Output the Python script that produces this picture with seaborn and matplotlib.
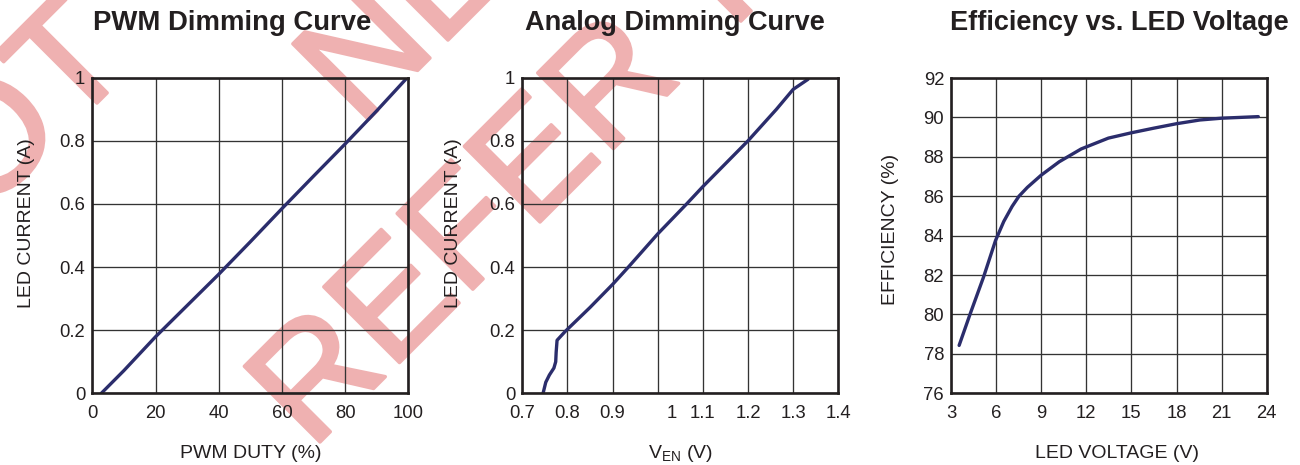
import matplotlib
matplotlib.use("Agg")
import matplotlib.pyplot as plt
import matplotlib.patheffects as pe
import seaborn as sns
from matplotlib.transforms import ScaledTranslation

# ---------------- data ----------------
pwm_duty = [2.85, 10, 20, 30, 40, 50, 60, 70, 80, 90, 99.2]
pwm_current = [0.0, 0.072, 0.179, 0.278, 0.377, 0.48, 0.585, 0.688, 0.79, 0.895, 0.995]

ven = [0.746, 0.752, 0.760, 0.770, 0.774, 0.775, 0.777, 0.795, 0.85, 0.90,
       0.935, 1.0, 1.064, 1.1, 1.2, 1.263, 1.30, 1.333]
analog_current = [0.0, 0.035, 0.058, 0.08, 0.10, 0.13, 0.168, 0.196, 0.272, 0.345,
                  0.40, 0.505, 0.60, 0.655, 0.80, 0.90, 0.963, 0.995]

led_voltage = [3.54, 4.28, 5.17, 5.96, 6.51, 7.07, 7.52, 8.08, 9.0, 10.2,
               11.66, 13.47, 15.0, 16.46, 18.0, 19.56, 21.0, 23.44]
efficiency = [78.43, 80.04, 81.91, 83.75, 84.72, 85.49, 86.0, 86.45, 87.07, 87.75,
              88.4, 88.95, 89.22, 89.45, 89.68, 89.87, 89.96, 90.04]

titles = ["PWM Dimming Curve", "Analog Dimming Curve", "Efficiency vs. LED Voltage"]
xlabels = ["PWM DUTY (%)", r"V$_{\mathrm{EN}}$ (V)", "LED VOLTAGE (V)"]
ylabels = ["LED CURRENT (A)", "LED CURRENT (A)", "EFFICIENCY (%)"]

pwm_xticks = [0, 20, 40, 60, 80, 100]
pwm_xticklabels = ["0", "20", "40", "60", "80", "100"]
current_yticks = [0, 0.2, 0.4, 0.6, 0.8, 1.0]
current_yticklabels = ["0", "0.2", "0.4", "0.6", "0.8", "1"]
ven_xticks = [0.7, 0.8, 0.9, 1.0, 1.1, 1.2, 1.3, 1.4]
ven_xticklabels = ["0.7", "0.8", "0.9", "1", "1.1", "1.2", "1.3", "1.4"]
volt_xticks = [3, 6, 9, 12, 15, 18, 21, 24]
volt_xticklabels = ["3", "6", "9", "12", "15", "18", "21", "24"]
eff_yticks = [76, 78, 80, 82, 84, 86, 88, 90, 92]
eff_yticklabels = ["76", "78", "80", "82", "84", "86", "88", "90", "92"]

watermark_lines = ["NOT", "NEW", "REFER TO"]

# ---------------- style ----------------
sns.set_style("white")
plt.rcParams["font.family"] = ["Liberation Sans", "DejaVu Sans"]
plt.rcParams["mathtext.fontset"] = "custom"
plt.rcParams["mathtext.rm"] = "Liberation Sans"
plt.rcParams["mathtext.it"] = "Liberation Sans:italic"
plt.rcParams["mathtext.bf"] = "Liberation Sans:bold"

W, H = 1300, 465
navy = "#2B2D6C"
ink = "#231F20"
pink = "#EFB1B1"

fig = plt.figure(figsize=(13, 4.65), dpi=100)
fig.patch.set_facecolor("white")

# watermark (beneath everything)
wm_anchors = [(-96.5, 296.5), (359.5, 128.5), (311, 451)]
for txt, (xi, yi) in zip(watermark_lines, wm_anchors):
    fig.text(xi / W, 1 - yi / H, txt, rotation=45, rotation_mode="anchor",
             ha="left", va="baseline", fontsize=112, color=pink,
             family="Liberation Sans", zorder=-10,
             path_effects=[pe.withStroke(linewidth=2.5, foreground=pink)])

# axes positions in pixels: left, top, right, bottom
boxes = [(92.3, 77.7, 408.3, 393.3), (522.3, 77.7, 838.3, 393.3), (951.0, 78.0, 1266.7, 393.3)]
axes = []
for (l, t, r, b) in boxes:
    ax = fig.add_axes([l / W, 1 - b / H, (r - l) / W, (b - t) / H])
    ax.set_facecolor("none")
    axes.append(ax)

series = [(pwm_duty, pwm_current), (ven, analog_current), (led_voltage, efficiency)]
for ax, (xs, ys) in zip(axes, series):
    sns.lineplot(x=xs, y=ys, ax=ax, color=navy, linewidth=2.4, estimator=None, sort=False)

# limits & ticks
axes[0].set_xlim(0, 100); axes[0].set_ylim(0, 1)
axes[0].set_xticks(pwm_xticks, pwm_xticklabels)
axes[0].set_yticks(current_yticks, current_yticklabels)

axes[1].set_xlim(0.7, 1.4); axes[1].set_ylim(0, 1)
axes[1].set_xticks(ven_xticks, ven_xticklabels)
axes[1].set_yticks(current_yticks, current_yticklabels)

axes[2].set_xlim(3, 24); axes[2].set_ylim(76, 92)
axes[2].set_xticks(volt_xticks, volt_xticklabels)
axes[2].set_yticks(eff_yticks, eff_yticklabels)

ylab_pos = [(-0.207, 0.54), (-0.218, 0.54), (-0.193, 0.52)]
xlab_pos = [(0.5, -0.206), (0.5, -0.206), (0.525, -0.206)]
for i, ax in enumerate(axes):
    ax.set_axisbelow(True)
    ax.grid(True, color="#333333", linewidth=0.95)
    for s in ax.spines.values():
        s.set_visible(True)
        s.set_color(ink)
        s.set_linewidth(1.9)
        s.set_zorder(5)
    ax.tick_params(axis="both", length=0, labelsize=13.3, colors=ink)
    ax.tick_params(axis="x", pad=8.5)
    ax.tick_params(axis="y", pad=5)
    ax.set_xlabel(xlabels[i], fontsize=14, color=ink)
    ax.set_ylabel(ylabels[i], fontsize=14, color=ink)
    ax.xaxis.set_label_coords(*xlab_pos[i])
    ax.xaxis.label.set_verticalalignment("baseline")
    ax.yaxis.set_label_coords(*ylab_pos[i])
    ax.yaxis.label.set_verticalalignment("center")

# shift the "1" label of the analog plot to the right as in the reference
lbl = axes[1].xaxis.get_major_ticks()[3].label1
lbl.set_transform(lbl.get_transform() + ScaledTranslation(14 / 100, 0, fig.dpi_scale_trans))

# titles
title_x = [232, 675, 1119]
title_sizes = [19.8, 19.5, 19.5]
for tx, tt, ts in zip(title_x, titles, title_sizes):
    fig.text(tx / W, 1 - 30.5 / H, tt, ha="center", va="baseline",
             fontsize=ts, fontweight="bold", color=ink)

fig.savefig("out.png", dpi=100, facecolor="white")
